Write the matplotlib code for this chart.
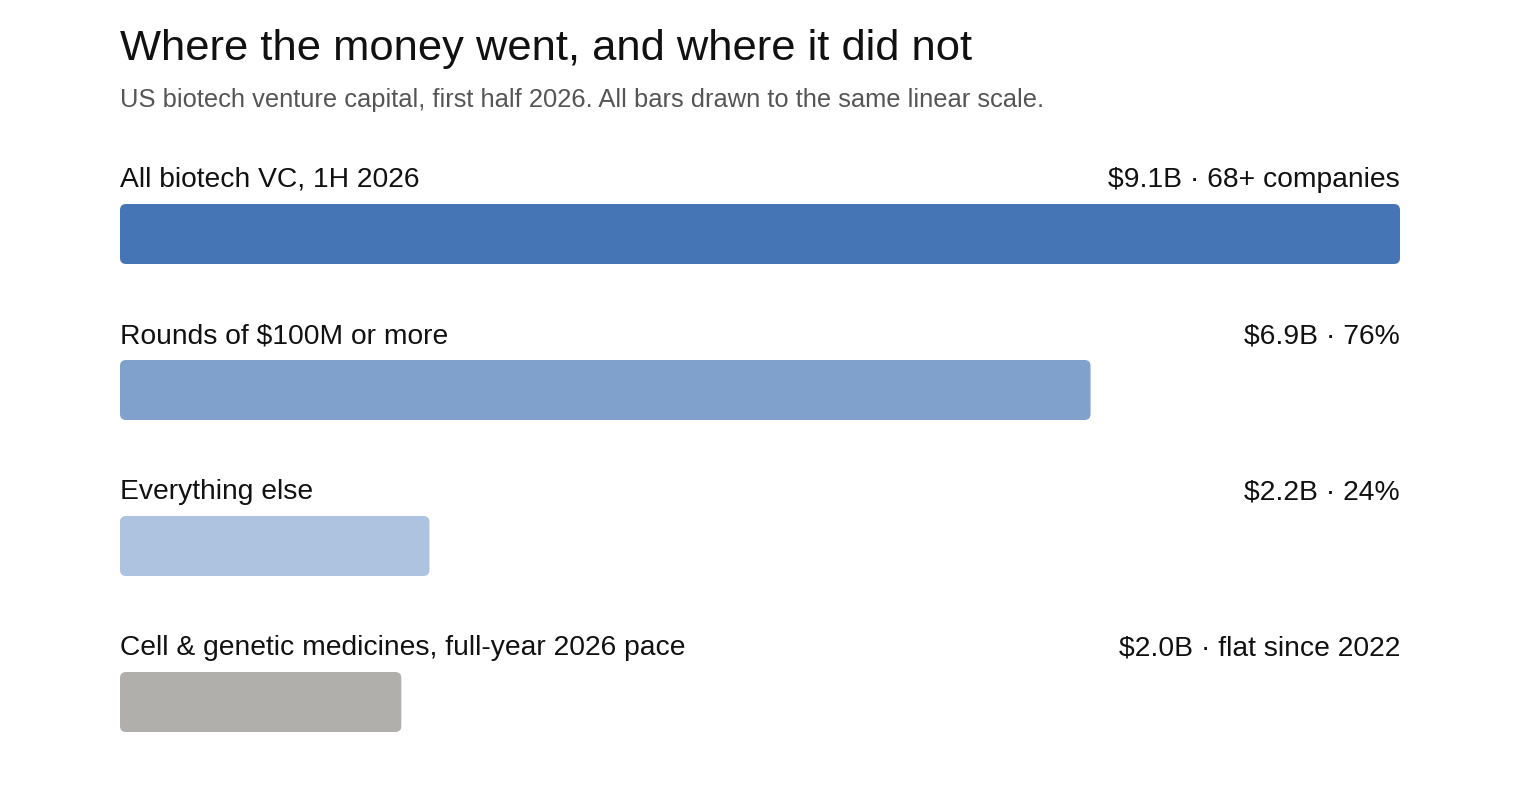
import matplotlib
matplotlib.use("Agg")
import matplotlib.pyplot as plt
from matplotlib.patches import FancyBboxPatch

FONT = "Liberation Sans"
plt.rcParams['font.family'] = FONT

# data, in billions of dollars
labels = ["All biotech VC, 1H 2026",
          "Rounds of $100M or more",
          "Everything else",
          "Cell & genetic medicines, full-year 2026 pace"]
values = [9.1, 6.9, 2.2, 2.0]
notes = ["$9.1B · 68+ companies",
         "$6.9B · 76%",
         "$2.2B · 24%",
         "$2.0B · flat since 2022"]
colors = ["#4575b5", "#7fa1cb", "#aec3e0", "#b0afab"]

W, H = 1520, 792
fig = plt.figure(figsize=(W / 100, H / 100), dpi=100)
fig.patch.set_facecolor("white")

# axes covering the full height so y can be read as pixels from the top
left, right = 120, 1400
ax = fig.add_axes([left / W, 0, (right - left) / W, 1])
xmax = max(values)
ax.set_xlim(0, xmax)
ax.set_ylim(H, 0)
ax.axis("off")

fig.text(left / W, 1 - 60 / H, "Where the money went, and where it did not",
         family=FONT, fontsize=31.3, color="#111111", va="baseline", ha="left")
fig.text(left / W, 1 - 107 / H,
         "US biotech venture capital, first half 2026. All bars drawn to the same linear scale.",
         family=FONT, fontsize=18.4, color="#555555", va="baseline", ha="left")

bar_h = 60
first_top = 204
step = 156
radius_px = 6
x_per_px = xmax / (right - left)

for i, (lab, val, note, c) in enumerate(zip(labels, values, notes, colors)):
    top = first_top + step * i
    box = FancyBboxPatch((0, top), val, bar_h,
                         boxstyle=f"round,pad=0,rounding_size={radius_px * x_per_px}",
                         mutation_aspect=1 / x_per_px,
                         facecolor=c, edgecolor="none")
    ax.add_patch(box)
    ax.text(0, top - 17, lab, family=FONT, fontsize=20.3, color="#111111",
            ha="left", va="baseline")
    ax.text(xmax, top - 17, note, family=FONT, fontsize=20.3, color="#111111",
            ha="right", va="baseline")

fig.savefig("out.png", dpi=100, facecolor="white")
